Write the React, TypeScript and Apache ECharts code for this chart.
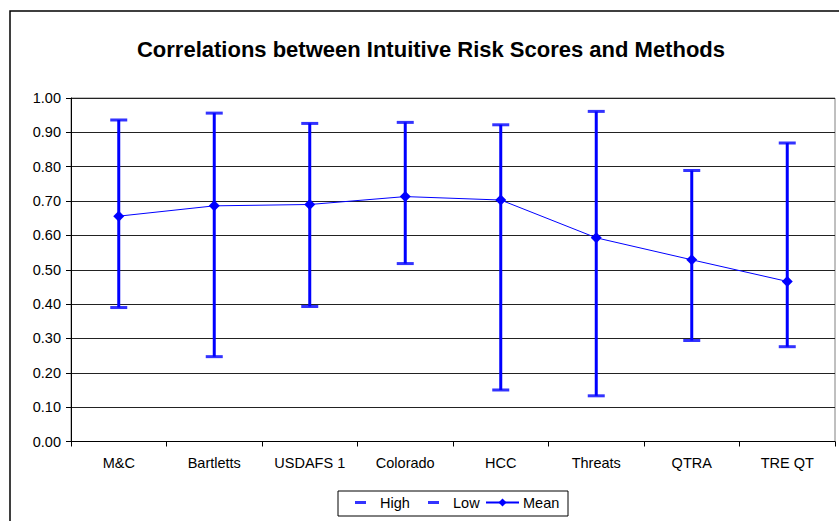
import React, { useEffect, useRef } from "react";
import * as echarts from "echarts";

const categories = ["M&C", "Bartletts", "USDAFS 1", "Colorado", "HCC", "Threats", "QTRA", "TRE QT"];
const highValues = [0.936, 0.956, 0.926, 0.929, 0.922, 0.961, 0.789, 0.869];
const lowValues = [0.39, 0.247, 0.393, 0.518, 0.15, 0.133, 0.294, 0.276];
const meanValues = [0.656, 0.686, 0.69, 0.713, 0.703, 0.593, 0.529, 0.466];

const BLUE = "#0000FF";
const FONT = "'Liberation Sans', Arial, sans-serif";

export default function App() {
  const ref = useRef<HTMLDivElement>(null);
  useEffect(() => {
    if (!ref.current) return;
    const chart = echarts.init(ref.current, null, { renderer: "svg" });
    const rangeData = categories.map((_, i) => [i, lowValues[i], highValues[i]]);
    const legendText = { fontSize: 14.5, fontFamily: FONT, color: "#000" };
    chart.setOption({
      animation: false,
      backgroundColor: "#fff",
      textStyle: { fontFamily: FONT, color: "#000" },
      title: {
        text: "Correlations between Intuitive Risk Scores and Methods",
        left: 426,
        textAlign: "center",
        top: 33,
        textStyle: { fontFamily: FONT, fontSize: 22, fontWeight: "bold", color: "#000" },
      },
      grid: {
        left: 71,
        right: 4,
        top: 98,
        bottom: 79.5,
        show: true,
        borderColor: "#808080",
        borderWidth: 1,
      },
      xAxis: {
        type: "category",
        data: categories,
        boundaryGap: true,
        axisLine: { lineStyle: { color: "#000", width: 1 } },
        axisTick: { show: true, length: 5, lineStyle: { color: "#000" } },
        axisLabel: { color: "#000", fontSize: 14.5, fontFamily: FONT, margin: 14 },
      },
      yAxis: {
        type: "value",
        min: 0,
        max: 1,
        interval: 0.1,
        axisLine: { show: true, lineStyle: { color: "#000", width: 1 } },
        axisTick: { show: true, length: 5, lineStyle: { color: "#000" } },
        axisLabel: {
          color: "#000",
          fontSize: 14.5,
          fontFamily: FONT,
          margin: 10,
          formatter: (v: number) => v.toFixed(2),
        },
        splitLine: { show: true, lineStyle: { color: "#222", width: 1 } },
      },
      legend: [
        {
          data: [{ name: "High", icon: "rect" }],
          left: 355,
          top: 495,
          padding: 0,
          itemWidth: 11,
          itemHeight: 3,
          textStyle: { ...legendText, padding: [0, 0, 0, 9] },
        },
        {
          data: [{ name: "Low", icon: "rect" }],
          left: 428,
          top: 495,
          padding: 0,
          itemWidth: 11,
          itemHeight: 3,
          textStyle: { ...legendText, padding: [0, 0, 0, 9] },
        },
        {
          data: ["Mean"],
          left: 485,
          top: 495,
          padding: 0,
          itemWidth: 33,
          itemHeight: 10,
          textStyle: { ...legendText, padding: [0, 0, 0, -1] },
        },
      ],
      graphic: [
        {
          type: "rect",
          shape: { x: 10, y: 11, width: 900, height: 600 },
          style: { fill: "none", stroke: "#000", lineWidth: 1.5 },
          silent: true,
        },
        {
          type: "rect",
          shape: { x: 338, y: 491, width: 230, height: 25 },
          style: { fill: "none", stroke: "#000", lineWidth: 1 },
          silent: true,
        },
      ],
      series: [
        {
          name: "range",
          type: "custom",
          data: rangeData,
          encode: { x: 0, y: [1, 2] },
          z: 2,
          renderItem: (params: any, api: any) => {
            const lo = api.coord([api.value(0), api.value(1)]);
            const hi = api.coord([api.value(0), api.value(2)]);
            return {
              type: "line",
              shape: { x1: lo[0], y1: lo[1], x2: hi[0], y2: hi[1] },
              style: { stroke: BLUE, lineWidth: 3 },
            };
          },
        },
        {
          name: "High",
          type: "scatter",
          data: highValues,
          symbol: "rect",
          symbolSize: [17, 3],
          itemStyle: { color: BLUE },
          z: 3,
        },
        {
          name: "Low",
          type: "scatter",
          data: lowValues,
          symbol: "rect",
          symbolSize: [17, 3],
          itemStyle: { color: BLUE },
          z: 3,
        },
        {
          name: "Mean",
          type: "line",
          data: meanValues,
          symbol: "diamond",
          symbolSize: 11,
          showSymbol: true,
          lineStyle: { color: BLUE, width: 1 },
          itemStyle: { color: BLUE },
          z: 4,
        },
      ],
    });
    return () => chart.dispose();
  }, []);
  return (
    <div
      ref={ref}
      style={{ position: "fixed", left: 0, top: 0, width: 839, height: 521 }}
    />
  );
}
